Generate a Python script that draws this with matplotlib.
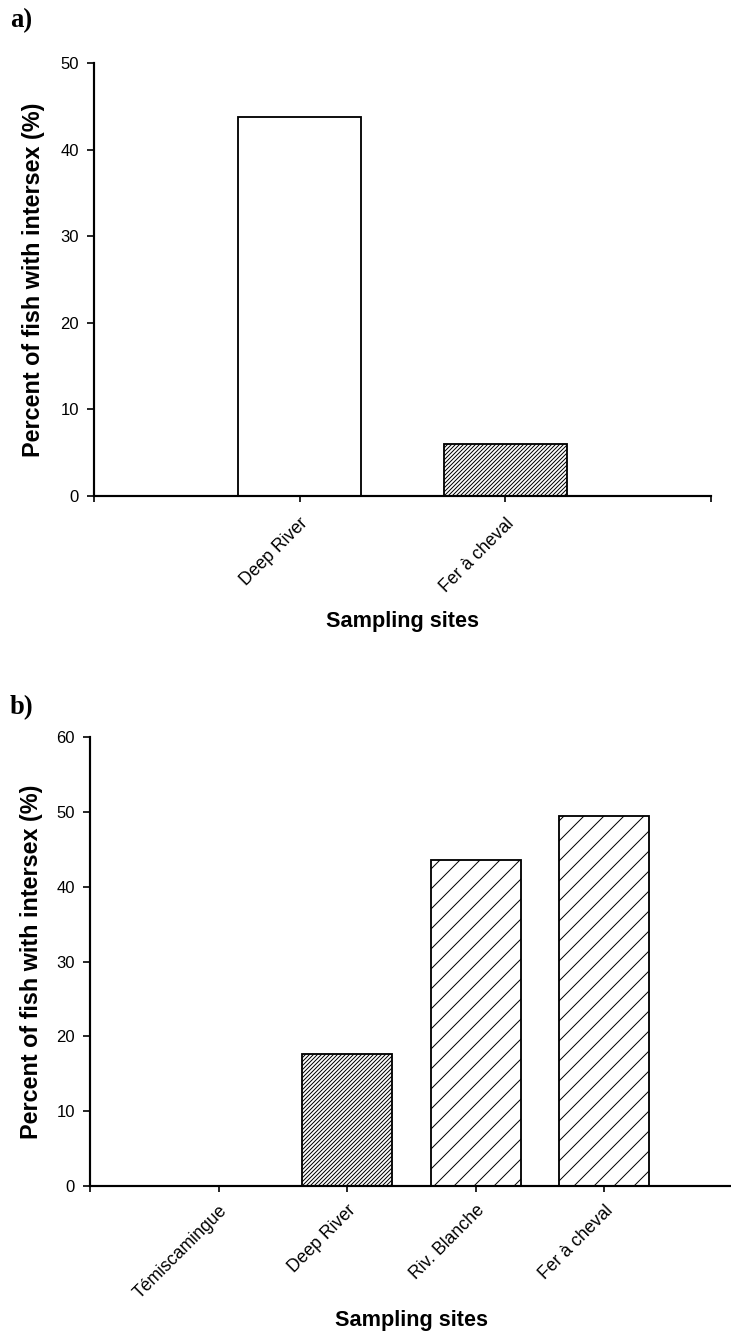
import numpy as np
import matplotlib
matplotlib.use("Agg")
import matplotlib.pyplot as plt

plt.rcParams['font.family'] = ['Liberation Sans', 'DejaVu Sans']
plt.rcParams['hatch.linewidth'] = 0.6

# panel a
sites_a = ['Deep River', 'Fer à cheval']
pct_a = [43.8, 6.0]
hatch_a = ['', '//////////']

# panel b
sites_b = ['Témiscamingue', 'Deep River', 'Riv. Blanche', 'Fer à cheval']
pct_b = [0.0, 17.7, 43.6, 49.4]
hatch_b = ['', '//////////', '//', '//']

DPI = 120
fig = plt.figure(figsize=(731 / DPI, 1343 / DPI), dpi=DPI)
ax_a = fig.add_axes([94 / 731, 1 - 496 / 1343, (711 - 94) / 731, (496 - 63) / 1343])
ax_b = fig.add_axes([90 / 731, 1 - 1186 / 1343, (733 - 90) / 731, (1186 - 737) / 1343])


def draw_panel(ax, sites, vals, hatches, width, ymax, ystep, xpad, xlpad, ylpad):
    x = np.arange(1, len(sites) + 1)
    for xi, v, h in zip(x, vals, hatches):
        if v > 0:
            ax.bar(xi, v, width=width, color='white', edgecolor='black',
                   linewidth=1.1, hatch=h, zorder=2)
    ax.set_xlim(0, len(sites) + 1)
    ax.set_ylim(0, ymax)
    ax.set_yticks(np.arange(0, ymax + 1, ystep))
    ax.set_xticks(np.arange(0, len(sites) + 2))
    ax.set_xticklabels([''] + sites + [''], rotation=45, ha='right',
                       rotation_mode='anchor', fontsize=10.6)
    ax.tick_params(axis='y', labelsize=10, direction='out', length=4, width=1, pad=5)
    ax.tick_params(axis='x', direction='out', length=3.5, width=1, pad=xpad)
    for s in ['top', 'right']:
        ax.spines[s].set_visible(False)
    for s in ['left', 'bottom']:
        ax.spines[s].set_linewidth(1.3)
    ax.set_ylabel('Percent of fish with intersex (%)', fontsize=14,
                  fontweight='bold', labelpad=ylpad)
    ax.set_xlabel('Sampling sites', fontsize=13, fontweight='bold', labelpad=xlpad)


draw_panel(ax_a, sites_a, pct_a, hatch_a, 0.6, 50, 10, 8, 9, 9)
draw_panel(ax_b, sites_b, pct_b, hatch_b, 0.7, 60, 10, 6, 5, 8)
ax_b.spines['bottom'].set_clip_on(False)

fig.text(10 / 731, 1 - 21 / 1343, 'a)', family='Liberation Serif', fontweight='bold',
         fontsize=16, va='center', ha='left')
fig.text(10 / 731, 1 - 708 / 1343, 'b)', family='Liberation Serif', fontweight='bold',
         fontsize=16, va='center', ha='left')

fig.savefig('out.png', dpi=DPI)
